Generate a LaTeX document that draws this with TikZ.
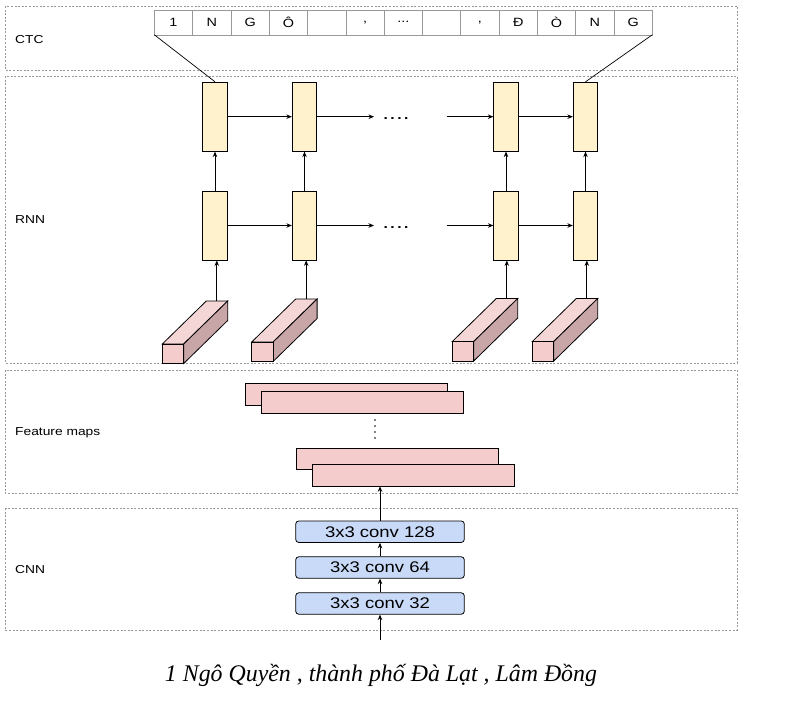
\documentclass[tikz,border=0pt]{standalone}
\usepackage{fontspec}
\usepackage{graphicx}
\setmainfont{Liberation Sans}[FakeStretch=1.2]
\newfontfamily\hand{Liberation Serif}
\usetikzlibrary{arrows.meta}
\definecolor{rnnfill}{HTML}{FFF2CC}
\definecolor{convfill}{HTML}{C9DAF8}
\definecolor{fmapfill}{HTML}{F4CCCC}
\definecolor{topfill}{HTML}{F5D6D7}
\definecolor{sidefill}{HTML}{C8A5A6}
\definecolor{panelgray}{HTML}{999999}
\definecolor{cellgray}{HTML}{999999}
\newcommand{\rnndots}{.\hspace{2.5pt}.\hspace{2.5pt}.\hspace{2.5pt}.}
\begin{document}
\begin{tikzpicture}[x=1pt,y=-1pt,
  panel/.style={draw=panelgray, dash pattern=on 2pt off 1.6pt, line width=0.7pt},
  lbl/.style={anchor=west, inner sep=0pt, font=\fontsize{11.5}{13}\selectfont},
  cell/.style={draw=cellgray, line width=0.6pt, fill=white, minimum width=38.3pt, minimum height=25pt, inner sep=0pt, outer sep=0pt, font=\fontsize{12}{14}\selectfont},
  rnncell/.style={draw, line width=0.8pt, fill=rnnfill, minimum width=24.5pt, minimum height=69pt, inner sep=0pt},
  convbox/.style={draw, line width=0.8pt, fill=convfill, rounded corners=3pt, minimum width=168.6pt, minimum height=21.4pt, inner sep=0pt, font=\fontsize{15.4}{17}\selectfont},
  fmap/.style={draw, line width=0.8pt, fill=fmapfill, minimum width=202.3pt, minimum height=21.8pt, inner sep=0pt},
  arr/.style={-{Stealth[length=5.5pt,width=4.5pt]}, line width=0.8pt},
  thin/.style={line width=0.7pt},
  dotsfont/.style={inner sep=0pt, font=\fontsize{13}{15}\selectfont\bfseries},
  prism/.pic={
    \filldraw[fill=topfill, line width=0.8pt] (0,0) -- (44,-43) -- (65.4,-43) -- (21.4,0) -- cycle;
    \filldraw[fill=sidefill, line width=0.8pt] (21.4,0) -- (65.4,-43) -- (65.4,-23.5) -- (21.4,19.5) -- cycle;
    \filldraw[fill=fmapfill, line width=0.8pt] (0,0) rectangle (21.4,19.5);
    \coordinate (-top) at (54.5,-43);
  }
]
\useasboundingbox (0,0) rectangle (791,720);

% panels
\draw[panel] (5,6) rectangle (737,70);
\draw[panel] (5,76) rectangle (737,363);
\draw[panel] (5,370) rectangle (737,493);
\draw[panel] (5,508) rectangle (737,630);

% panel labels
\node[lbl] (lctc) at (15,40) {CTC};
\node[lbl] (lrnn) at (15,220) {RNN};
\node[lbl] (lfm) at (15,433) {Feature maps};
\node[lbl] (lcnn) at (15,570) {CNN};

% CTC strip
\node[cell] (c1) at (173.5,22.3) {1};
\node[cell, anchor=west] (c2) at (c1.east) {N};
\node[cell, anchor=west] (c3) at (c2.east) {G};
\node[cell, anchor=west] (c4) at (c3.east) {Ô};
\node[cell, anchor=west] (c5) at (c4.east) {};
\node[cell, anchor=west] (c6) at (c5.east) {,};
\node[cell, anchor=west] (c7) at (c6.east) {...};
\node[cell, anchor=west] (c8) at (c7.east) {};
\node[cell, anchor=west] (c9) at (c8.east) {,};
\node[cell, anchor=west] (c10) at (c9.east) {Đ};
\node[cell, anchor=west] (c11) at (c10.east) {Ò};
\node[cell, anchor=west] (c12) at (c11.east) {N};
\node[cell, anchor=west] (c13) at (c12.east) {G};

% RNN cells
\node[rnncell] (u1) at (215,116.7) {};
\node[rnncell] (u2) at (304.5,116.7) {};
\node[rnncell] (u3) at (506,116.7) {};
\node[rnncell] (u4) at (585.5,116.7) {};
\node[rnncell] (l1) at (215,225.5) {};
\node[rnncell] (l2) at (304.5,225.5) {};
\node[rnncell] (l3) at (506,225.5) {};
\node[rnncell] (l4) at (585.5,225.5) {};

% CTC to RNN
\draw[thin] (c1.south west) -- (u1.north);
\draw[thin] (c13.south east) -- (u4.north);

% horizontal recurrences
\coordinate (ua) at (374,116.7);
\coordinate (ub) at (446.7,116.7);
\coordinate (la) at (374,225.5);
\coordinate (lb) at (446.7,225.5);
\node[dotsfont] (udots) at (396,119) {\rnndots};
\node[dotsfont] (ldots) at (396,228) {\rnndots};
\draw[arr] (u1.east) -- (u2.west);
\draw[arr] (u2.east) -- (ua);
\draw[arr] (ub) -- (u3.west);
\draw[arr] (u3.east) -- (u4.west);
\draw[arr] (l1.east) -- (l2.west);
\draw[arr] (l2.east) -- (la);
\draw[arr] (lb) -- (l3.west);
\draw[arr] (l3.east) -- (l4.west);

% vertical
\foreach \i in {1,2,3,4} {
  \draw[arr] (l\i.north) -- (u\i.south);
}

% feature columns (3D prisms)
\pic (b1) at (162.3,344) {prism};
\pic (b2) at (251.7,342) {prism};
\pic (b3) at (452.3,341.5) {prism};
\pic (b4) at (532.3,341.5) {prism};
\foreach \i in {1,2,3,4} {
  \draw[arr] (b\i-top) -- (b\i-top |- l\i.south);
}

% feature maps
\node[fmap] (fA) at (346.2,394.2) {};
\node[fmap] (fB) at (362.2,402.2) {};
\node[fmap] (fC) at (397.5,458.8) {};
\node[fmap] (fD) at (413.3,475) {};
\foreach \yy in {420,426,432,438} {
  \fill (375,\yy) circle (0.9pt);
}

% CNN
\node[convbox] (k128) at (380,531.7) {3x3 conv 128};
\node[convbox] (k64) at (380,567.5) {3x3 conv 64};
\node[convbox] (k32) at (380,603.5) {3x3 conv 32};
\draw[arr] (k32.north) -- (k64.south);
\draw[arr] (k64.north) -- (k128.south);
\draw[arr] (k128.north) -- (k128.north |- fD.south);

% handwritten input
\node[inner sep=0pt] (hw) at (381,675) {\resizebox{432pt}{!}{\hand\itshape 1 Ngô Quyền , thành phố Đà Lạt , Lâm Đồng}};
\coordinate (hwtop) at (380,640);
\draw[arr] (hwtop) -- (k32.south);
\end{tikzpicture}
\end{document}
